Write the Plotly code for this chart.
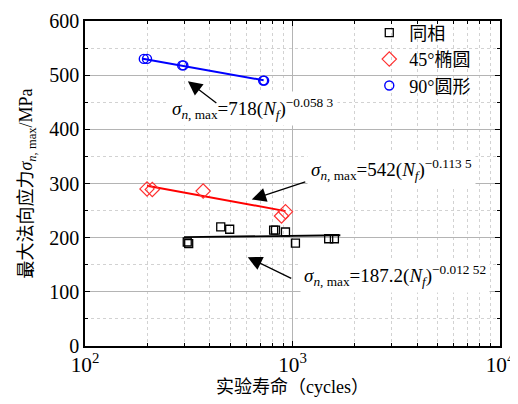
import plotly.graph_objects as go

# ---- data ----
n_same = [311, 316, 451, 498, 811, 828, 925, 1033, 1494, 1592]
s_same = [192, 189, 220, 215.5, 214, 214, 210.5, 190, 198, 198]

n_45 = [199, 211, 371, 885, 925]
s_45 = [290, 289, 286, 240, 248]

n_90 = [192, 199, 294, 298, 722, 730]
s_90 = [530, 530, 518, 518, 490, 490]

fit_same_n = [300, 1700]
fit_same_s = [201, 204.5]
fit_45_n = [199, 925]
fit_45_s = [296, 249]
fit_90_n = [190, 726]
fit_90_s = [530.5, 490.5]

names = ["同相", "45°椭圆", "90°圆形"]
labels = [
    "<i>σ</i><sub><i>n</i>, max</sub>=718(<i>N</i><sub><i>f</i></sub>)<sup>−0.058 3</sup>",
    "<i>σ</i><sub><i>n</i>, max</sub>=542(<i>N</i><sub><i>f</i></sub>)<sup>−0.113 5</sup>",
    "<i>σ</i><sub><i>n</i>, max</sub>=187.2(<i>N</i><sub><i>f</i></sub>)<sup>−0.012 52</sup>",
]

FONT = "Liberation Serif, Times New Roman, Noto Sans CJK SC"

fig = go.Figure()
fig.add_trace(go.Scatter(x=fit_same_n, y=fit_same_s, mode="lines",
                         line=dict(color="black", width=1.8), showlegend=False))
fig.add_trace(go.Scatter(x=fit_45_n, y=fit_45_s, mode="lines",
                         line=dict(color="#ff0000", width=2), showlegend=False))
fig.add_trace(go.Scatter(x=fit_90_n, y=fit_90_s, mode="lines",
                         line=dict(color="#0000ff", width=2), showlegend=False))

fig.add_trace(go.Scatter(x=n_same, y=s_same, mode="markers", name=names[0],
                         marker=dict(symbol="square-open", size=8, color="black",
                                     line=dict(width=1.3))))
fig.add_trace(go.Scatter(x=n_45, y=s_45, mode="markers", name=names[1],
                         marker=dict(symbol="diamond-open", size=11, color="#ff3030",
                                     line=dict(width=1.2))))
fig.add_trace(go.Scatter(x=n_90, y=s_90, mode="markers", name=names[2],
                         marker=dict(symbol="circle-open", size=9, color="#0000ff",
                                     line=dict(width=1.4))))

texts = [
    (2.402, 439, labels[0]),
    (3.071, 326, labels[1]),
    (3.034, 131, labels[2]),
]
for x, y, t in texts:
    fig.add_annotation(x=x, y=y, xref="x", yref="y", text=t, showarrow=False,
                       xanchor="left", yanchor="middle", bgcolor="white",
                       borderpad=3, font=dict(family=FONT, size=19, color="black"))

# arrows (tip at data point, tail offset in px), drawn above the labels
arrows = [
    (2.4957, 489, 30, 23),
    (2.8037, 270.5, 55, -18),
    (2.7844, 164, 45, 22),
]
for x, y, ax, ay in arrows:
    fig.add_annotation(x=x, y=y, xref="x", yref="y", ax=ax, ay=ay, text="",
                       showarrow=True, arrowhead=2, arrowsize=2.2, arrowwidth=1.3,
                       arrowcolor="black")

# white area behind legend (covers grid)
fig.add_shape(type="rect", xref="paper", yref="paper", x0=0.67, x1=0.997,
              y0=0.732, y1=0.997, fillcolor="white", line=dict(width=0),
              layer="between")

axis_common = dict(showline=True, linecolor="black", linewidth=1.5, mirror="ticks",
                   ticks="inside", ticklen=5, tickwidth=1.2, tickcolor="black",
                   gridcolor="#b4b4b4", gridwidth=1, zeroline=False, automargin=False)

fig.update_xaxes(type="log", range=[2, 4], dtick=1, exponentformat="power",
                 showexponent="all", tickfont=dict(family=FONT, size=17, color="black"),
                 minor=dict(ticks="inside", ticklen=3, tickcolor="black", dtick="D1",
                            showgrid=True, gridcolor="#d2d2d2", griddash="dot"),
                 title=dict(text="实验寿命（cycles）", standoff=2,
                            font=dict(family=FONT, size=18, color="black")),
                 **axis_common)
fig.update_yaxes(range=[0, 600], dtick=100,
                 tickfont=dict(family=FONT, size=20, color="black"),
                 minor=dict(ticks="inside", ticklen=3, tickcolor="black", dtick=50,
                            showgrid=True, gridcolor="#d2d2d2", griddash="dot"),
                 title=dict(text="最大法向应力<i>σ</i><sub><i>n</i>, max</sub>/MPa", standoff=12,
                            font=dict(family=FONT, size=18, color="black")),
                 **axis_common)

# page body has an 8px default margin, so the figure is sized/offset to compensate
fig.update_layout(
    width=510, height=396,
    margin=dict(l=77, r=18, t=6, b=58),
    plot_bgcolor="white", paper_bgcolor="white",
    font=dict(family=FONT, color="black"),
    legend=dict(x=0.685, y=1.02, xanchor="left", yanchor="top",
                bgcolor="rgba(255,255,255,0)", font=dict(family=FONT, size=18),
                itemwidth=30, tracegroupgap=0),
)

fig.write_html("out.html")
